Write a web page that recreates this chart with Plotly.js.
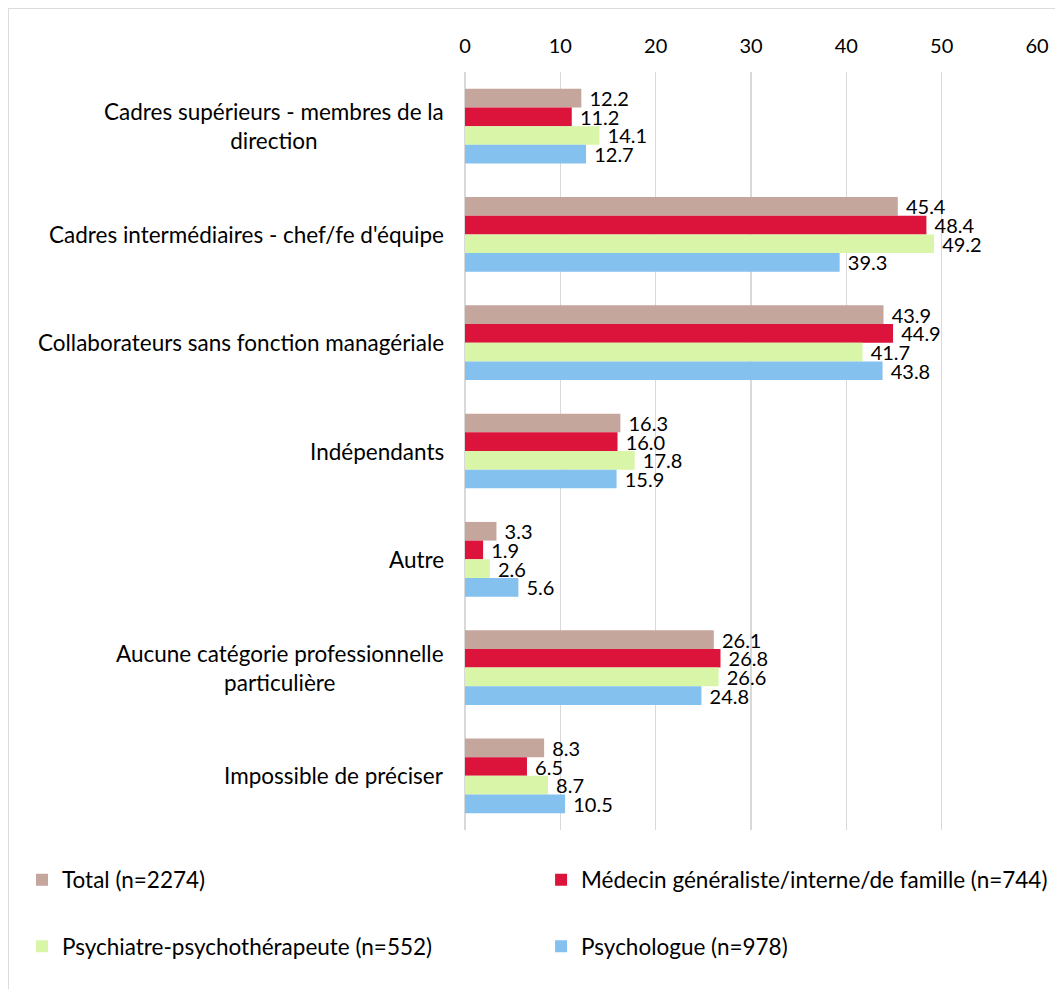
<!DOCTYPE html>
<html>
<head>
<meta charset="utf-8">
<script src="https://cdn.plot.ly/plotly-3.0.1.min.js"></script>
<style>
html,body{margin:0;padding:0;background:#fff;}
#wrap{position:relative;width:1055px;height:989px;overflow:hidden;}
#frame{position:absolute;left:8px;top:8px;width:1100px;height:1100px;border:1.5px solid #D9DDDB;box-sizing:border-box;pointer-events:none;}
#chart{position:absolute;left:0;top:0;width:1055px;height:989px;}
</style>
</head>
<body>
<div id="wrap"><div id="chart"></div><div id="frame"></div></div>
<script>
const categories = [
  "Cadres supérieurs - membres de la<br>direction",
  "Cadres intermédiaires - chef/fe d'équipe",
  "Collaborateurs sans fonction managériale",
  "Indépendants",
  "Autre",
  "Aucune catégorie professionnelle<br>particulière",
  "Impossible de préciser"
];
const seriesNames = [
  "Total (n=2274)",
  "Médecin généraliste/interne/de famille (n=744)",
  "Psychiatre-psychothérapeute (n=552)",
  "Psychologue (n=978)"
];
const totalVals = [12.2, 45.4, 43.9, 16.3, 3.3, 26.1, 8.3];
const medecinVals = [11.2, 48.4, 44.9, 16.0, 1.9, 26.8, 6.5];
const psychiatreVals = [14.1, 49.2, 41.7, 17.8, 2.6, 26.6, 8.7];
const psychologueVals = [12.7, 39.3, 43.8, 15.9, 5.6, 24.8, 10.5];
const xTicks = [0, 10, 20, 30, 40, 50, 60];

const colors = ["#C4A69D", "#DC143C", "#D9F5A8", "#85C1EE"];
const allVals = [totalVals, medecinVals, psychiatreVals, psychologueVals];
const legendIds = ["legend", "legend2", "legend3", "legend4"];
const FONT = "Lato, 'Liberation Sans', sans-serif";

const traces = allVals.map((vals, i) => ({
  type: "bar",
  orientation: "h",
  name: seriesNames[i],
  y: categories,
  x: vals,
  marker: {color: colors[i]},
  text: vals.map(v => "\u00a0" + v.toFixed(1)),
  textposition: "outside",
  textfont: {family: FONT, size: 20, color: "#000"},
  constraintext: "none",
  cliponaxis: false,
  legend: legendIds[i],
  hoverinfo: "x+name"
}));

const annotations = categories.map(c => ({
  xref: "paper", yref: "y",
  x: -0.034, y: c,
  xanchor: "right", yanchor: "middle",
  align: "center",
  text: c,
  showarrow: false,
  font: {family: FONT, size: 22.5, color: "#000"}
}));

function legendAt(xp, yp) {
  return {
    orientation: "h",
    x: xp, xanchor: "left",
    y: yp, yanchor: "middle",
    font: {family: FONT, size: 22.5, color: "#000"},
    itemwidth: 30,
    bgcolor: "rgba(0,0,0,0)"
  };
}

const layout = {
  width: 1055, height: 989,
  margin: {l: 465, r: 18, t: 72, b: 159, autoexpand: false},
  paper_bgcolor: "rgba(0,0,0,0)",
  plot_bgcolor: "#fff",
  barmode: "group",
  bargap: 0.31,
  bargroupgap: 0,
  font: {family: FONT, size: 20, color: "#000"},
  xaxis: {
    side: "top",
    range: [0, 60],
    tickvals: xTicks,
    ticktext: xTicks.map(String),
    showgrid: true,
    gridcolor: "#D9D9D9",
    gridwidth: 1.5,
    zeroline: true,
    zerolinecolor: "#D9D9D9",
    zerolinewidth: 1.5,
    showline: false,
    ticks: "",
    ticklabelstandoff: 14,
    tickfont: {family: FONT, size: 20, color: "#000"}
  },
  yaxis: {
    autorange: "reversed",
    showticklabels: false,
    showgrid: false,
    zeroline: false,
    showline: false,
    ticks: ""
  },
  showlegend: true,
  legend: legendAt(-0.7745, -0.066),
  legend2: legendAt(0.133, -0.066),
  legend3: legendAt(-0.7745, -0.154),
  legend4: legendAt(0.133, -0.154),
  annotations: annotations
};

Plotly.newPlot("chart", traces, layout, {displayModeBar: false, staticPlot: true});
</script>
</body>
</html>
